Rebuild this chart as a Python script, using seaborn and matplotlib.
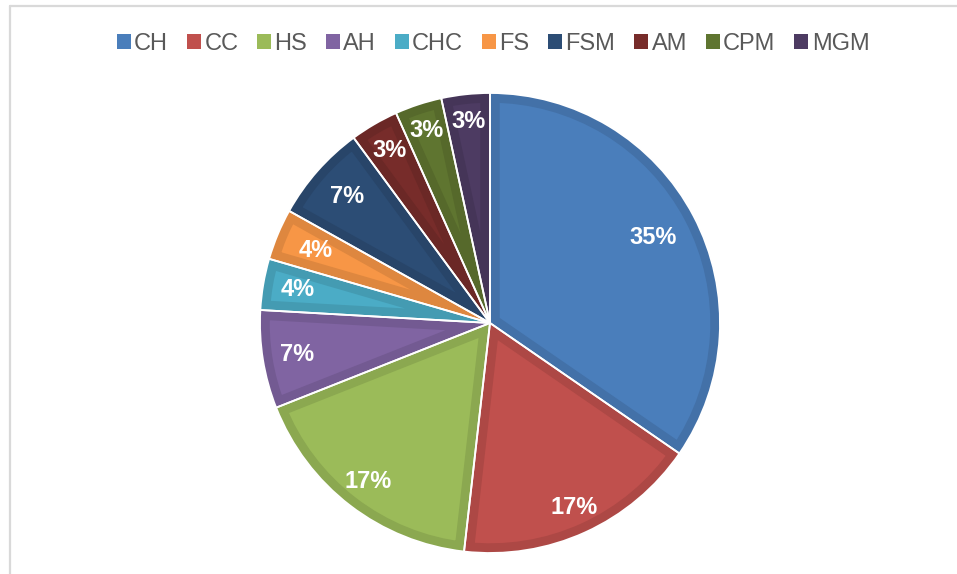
import numpy as np
import matplotlib
matplotlib.use("Agg")
import matplotlib.pyplot as plt
from matplotlib.patches import Wedge, Patch
from matplotlib.lines import Line2D
import seaborn as sns

# ---- data ----
categories = ["CH", "CC", "HS", "AH", "CHC", "FS", "FSM", "AM", "CPM", "MGM"]
shares = [34.6, 17.2, 17.2, 6.9, 3.6, 3.6, 6.8, 3.4, 3.3, 3.4]
colors_hex = ["#4A7EBB", "#C0504D", "#9BBB59", "#8064A2", "#4BACC6",
              "#F79646", "#2C4D75", "#772C2A", "#5F7530", "#4D3B62"]
# label radial distance (fraction of radius), styling only
label_r = [0.80, 0.88, 0.87, 0.85, 0.85, 0.82, 0.83, 0.87, 0.88, 0.88]

sns.set_theme(style="white")
plt.rcParams["font.family"] = ["Liberation Sans", "DejaVu Sans"]

palette = sns.color_palette(colors_hex)
dark = [tuple(c * 0.9 for c in col) for col in palette]

W, H = 957, 574
fig = plt.figure(figsize=(W / 100, H / 100), dpi=100)
fig.patch.set_facecolor("white")

cx, cy, R = 490, 323, 230
ax = fig.add_axes([(cx - R) / W, (H - cy - R) / H, 2 * R / W, 2 * R / H])

wedges, _ = ax.pie(shares, colors=palette, startangle=90, counterclock=False,
                   radius=1, center=(0, 0), wedgeprops=dict(linewidth=0))
ax.set_xlim(-1, 1)
ax.set_ylim(-1, 1)
ax.set_aspect("equal")
ax.axis("off")

for w, dc in zip(wedges, dark):
    band = Wedge(w.center, w.r, w.theta1, w.theta2, facecolor="none",
                 edgecolor=dc, linewidth=14, zorder=3)
    ax.add_patch(band)
    band.set_clip_path(w)
for w in wedges:
    sep = Wedge(w.center, w.r, w.theta1, w.theta2, facecolor="none",
                edgecolor="white", linewidth=1.3, zorder=4)
    ax.add_patch(sep)

for w, val, rr in zip(wedges, shares, label_r):
    ang = np.deg2rad((w.theta1 + w.theta2) / 2)
    ax.text(rr * np.cos(ang), rr * np.sin(ang), f"{val:.0f}%",
            ha="center", va="center", color="white", fontsize=17,
            fontweight="bold", zorder=5)

handles = [Patch(facecolor=c, edgecolor="none") for c in palette]
fig.legend(handles, categories, loc="center", ncol=len(categories),
           bbox_to_anchor=(493 / W, 1 - 44 / H), frameon=False,
           fontsize=17, handlelength=0.6, handleheight=0.6,
           handletextpad=0.15, columnspacing=0.78, labelcolor="#595959")

# chart-area frame (left and top edges visible)
fig.add_artist(Line2D([10 / W, 10 / W], [0, 1 - 6 / H], transform=fig.transFigure,
                      color="#d9d9d9", linewidth=1.6))
fig.add_artist(Line2D([10 / W, 1], [1 - 6 / H, 1 - 6 / H], transform=fig.transFigure,
                      color="#d9d9d9", linewidth=1.6))

fig.savefig("out.png", dpi=100)
